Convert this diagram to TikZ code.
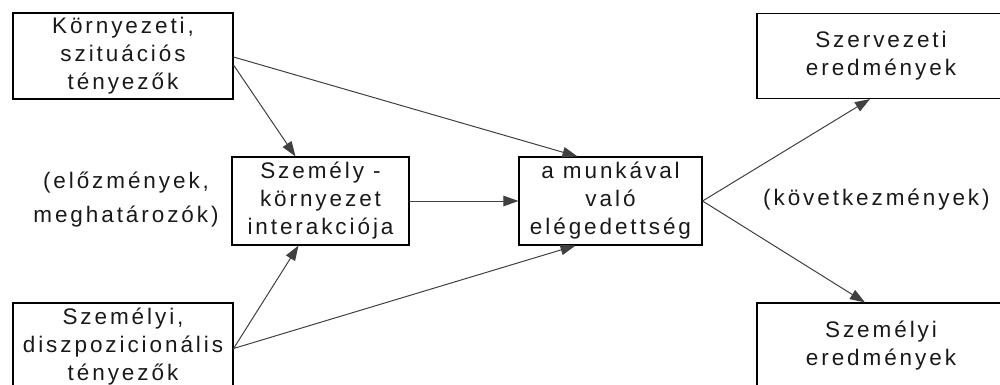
\documentclass[tikz,border=0pt]{standalone}
\usepackage{fontspec}
\setmainfont{Liberation Sans}[LetterSpace=13]
\usetikzlibrary{arrows.meta,calc}
\begin{document}
\begin{tikzpicture}[x=1pt,y=-1pt,
  box/.style={draw=black,line width=1.1pt,inner sep=0pt,align=center,
    text=black!90,font=\fontsize{22.5pt}{28pt}\selectfont},
  lbl/.style={inner sep=0pt,align=center,text=black!90,font=\fontsize{22.5pt}{34pt}\selectfont},
  conn/.style={draw=black!75,line width=1pt,-{Triangle[length=15pt,width=10.5pt]}}]
\useasboundingbox (0,0) rectangle (1000,385);
\clip (0,0) rectangle (1000,385);
\node[box,minimum width=220pt,minimum height=86pt] (k) at (123,56) {Környezeti,\\szituációs\\tényezők};
\node[box,minimum width=177pt,minimum height=88pt] (s) at (320.5,201) {Személy -\\környezet\\interakciója};
\node[box,minimum width=220pt,minimum height=87pt] (p) at (123,346.5) {Személyi,\\diszpozicionális\\tényezők};
\node[box,minimum width=183pt,minimum height=88pt] (m) at (610.5,201) {a munkával\\való\\elégedettség};
\node[box,minimum width=248pt,minimum height=85pt] (o) at (881,56) {Szervezeti\\eredmények};
\node[box,minimum width=248pt,minimum height=86pt] (e) at (881,346) {Személyi\\eredmények};
\node[lbl] (el) at (126,200) {(előzmények,\\meghatározók)};
\node[lbl,anchor=west] (kv) at (763,200) {(következmények)};
\draw[conn] ([yshift=-1pt]k.east) -- ([xshift=-33pt]m.north);
\draw[conn] ([yshift=-9pt]k.east) -- ([xshift=-25pt]s.north);
\draw[conn] (s.east) -- (m.west);
\draw[conn] ([yshift=-2pt]p.east) -- ([xshift=-22pt]s.south);
\draw[conn] ([yshift=-2pt]p.east) -- ([xshift=-35pt]m.south);
\draw[conn] (m.east) -- ([xshift=-11pt]o.south);
\draw[conn] (m.east) -- ([xshift=-16pt]e.north);
\end{tikzpicture}
\end{document}
